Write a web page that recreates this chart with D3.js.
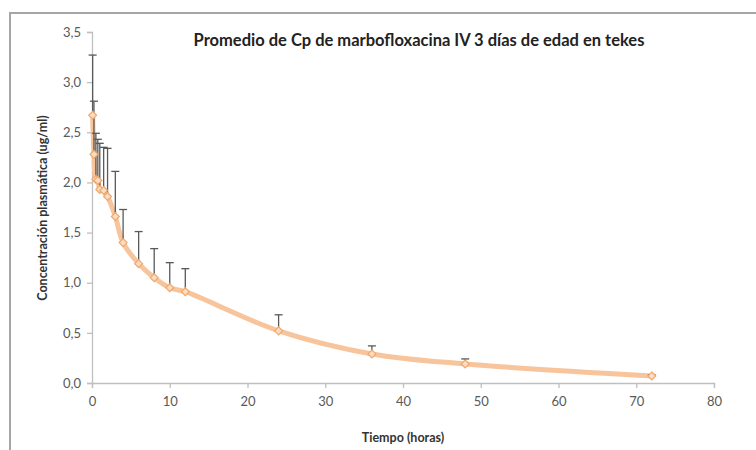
<!DOCTYPE html>
<html><head><meta charset="utf-8">
<script src="https://cdn.jsdelivr.net/npm/d3@7"></script>
<style>body{margin:0;background:#fff}svg{display:block}</style>
</head><body>
<svg id="c" width="756" height="450"></svg>
<script>
const times = [0.083, 0.25, 0.5, 0.75, 1, 1.5, 2, 3, 4, 6, 8, 10, 12, 24, 36, 48, 72];
const means = [2.67, 2.28, 2.03, 2.02, 1.93, 1.92, 1.86, 1.66, 1.40, 1.19, 1.05, 0.95, 0.91, 0.52, 0.29, 0.19, 0.07];
const errTops = [3.27, 2.81, 2.49, 2.43, 2.39, 2.35, 2.34, 2.11, 1.73, 1.51, 1.34, 1.20, 1.14, 0.68, 0.37, 0.24, 0.08];
const xTicks = [0, 10, 20, 30, 40, 50, 60, 70, 80];
const yTicks = [0, 0.5, 1.0, 1.5, 2.0, 2.5, 3.0, 3.5];
const title = "Promedio de Cp de marbofloxacina IV 3 días de edad en tekes";
const xTitle = "Tiempo (horas)";
const yTitle = "Concentración plasmática (ug/ml)";

const svg = d3.select("#c");
const font = "Lato, 'Open Sans', 'Liberation Sans', sans-serif";
const x = d3.scaleLinear().domain([0, 80]).range([92, 714]);
const y = d3.scaleLinear().domain([0, 3.5]).range([383, 32]);

// frame
svg.append("path").attr("d", "M10,450 L10,13 L756,13").attr("fill", "none")
  .attr("stroke", "#a6a6a6").attr("stroke-width", 2);

const axisColor = "#bfbfbf";
const fmt = d3.format(".1f");
const yAxis = svg.append("g").attr("transform", `translate(${x(0)},0)`)
  .call(d3.axisLeft(y).tickValues(yTicks).tickSize(5).tickPadding(6).tickFormat(d => fmt(d).replace(".", ",")));
const xAxis = svg.append("g").attr("transform", `translate(0,${y(0)})`)
  .call(d3.axisBottom(x).tickValues(xTicks).tickSize(5).tickPadding(9).tickFormat(d3.format("d")));
[yAxis, xAxis].forEach(g => {
  g.select(".domain").attr("stroke", axisColor).attr("stroke-width", 1.3);
  g.selectAll(".tick line").attr("stroke", axisColor).attr("stroke-width", 1.3);
  g.selectAll(".tick text").attr("fill", "#595959").style("font-family", font).style("font-size", "13px");
});

// smooth line
const data = times.map((t, i) => ({t, m: means[i], top: errTops[i]}));
svg.append("path").datum(data)
  .attr("d", d3.line().x(d => x(d.t)).y(d => y(d.m)).curve(d3.curveCatmullRom.alpha(0.5)))
  .attr("fill", "none").attr("stroke", "#f7c49c").attr("stroke-width", 5).attr("stroke-linejoin", "round");

// error bars
const eb = svg.append("g").attr("stroke", "#595959").attr("stroke-width", 1.3);
eb.selectAll("line.v").data(data).join("line").attr("class", "v")
  .attr("x1", d => x(d.t)).attr("x2", d => x(d.t)).attr("y1", d => y(d.m)).attr("y2", d => y(d.top));
eb.selectAll("line.c").data(data).join("line").attr("class", "c")
  .attr("x1", d => x(d.t) - 4).attr("x2", d => x(d.t) + 4).attr("y1", d => y(d.top)).attr("y2", d => y(d.top));

// markers
svg.append("g").selectAll("path").data(data).join("path")
  .attr("transform", d => `translate(${x(d.t)},${y(d.m)})`)
  .attr("d", d3.symbol().type(d3.symbolDiamond2).size(40))
  .attr("fill", "#fbdcc4").attr("stroke", "#f0a868").attr("stroke-width", 1.2);

// titles
svg.append("text").attr("x", 419).attr("y", 46).attr("text-anchor", "middle")
  .style("font-family", font).style("font-weight", "bold").style("font-size", "16.5px").attr("fill", "#222")
  .text(title);
svg.append("text").attr("x", 403).attr("y", 442).attr("text-anchor", "middle")
  .style("font-family", font).style("font-weight", "bold").style("font-size", "12.5px").attr("fill", "#333")
  .text(xTitle);
svg.append("text").attr("transform", "translate(47,208) rotate(-90)").attr("text-anchor", "middle")
  .style("font-family", font).style("font-weight", "bold").style("font-size", "12.5px").attr("fill", "#333")
  .text(yTitle);
</script>
</body></html>
